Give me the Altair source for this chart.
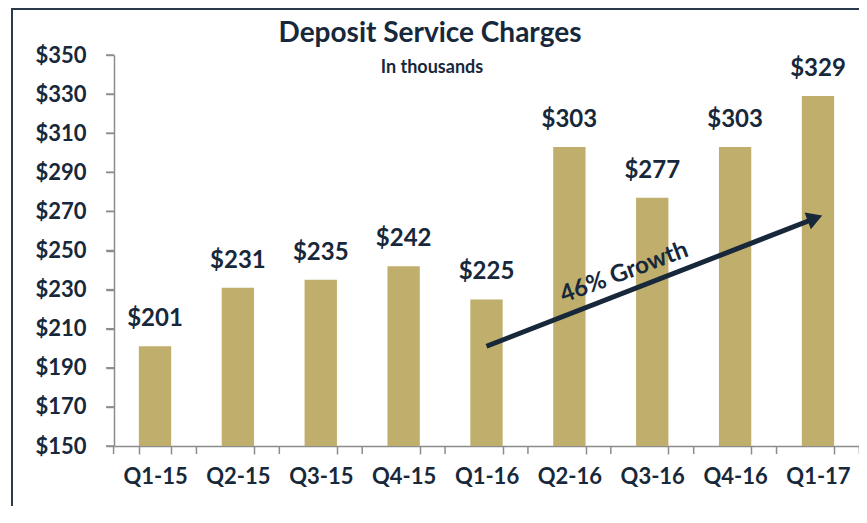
import altair as alt
import pandas as pd

quarters = ["Q1-15", "Q2-15", "Q3-15", "Q4-15", "Q1-16", "Q2-16", "Q3-16", "Q4-16", "Q1-17"]
values = [201, 231, 235, 242, 225, 303, 277, 303, 329]
labels = ["$" + str(v) for v in values]
y_ticks = [150, 170, 190, 210, 230, 250, 270, 290, 310, 330, 350]

arrow_from = ["Q1-16", 201]
arrow_to = ["Q1-17", 267]
growth_text = "46% Growth"
title_text = "Deposit Service Charges"
subtitle_text = "In thousands"

NAVY = "#17283b"
GOLD = "#c0ae6d"
GREY = "#8c8c8c"
FONT = "Lato"
W, H = 745, 391

df = pd.DataFrame({"q": quarters, "v": values, "lab": labels})
arrow_df = pd.DataFrame({"x": [arrow_from[0]], "x2": [arrow_to[0]], "y": [arrow_from[1]], "y2": [arrow_to[1]]})
head_df = pd.DataFrame({"x": [arrow_to[0]], "y": [arrow_to[1]]})
txt_df = pd.DataFrame({"x": ["Q3-16"], "y": [244], "t": [growth_text]})
yt_df = pd.DataFrame({"t": y_ticks})
xt_df = pd.DataFrame({"q": quarters})
xlast_df = pd.DataFrame({"q": [quarters[-1]]})

xscale = alt.Scale(domain=quarters, paddingInner=0.61, paddingOuter=0.3)
xaxis = alt.Axis(labelAngle=0, labelFont=FONT, labelFontSize=22, labelFontWeight="bold",
                 labelColor=NAVY, labelPadding=12, tickBand="extent", tickSize=8, tickWidth=1.5,
                 tickColor=GREY, domainColor=GREY, domainWidth=1.5, ticks=True)
yscale = alt.Scale(domain=[150, 350], nice=False, zero=False)
yaxis = alt.Axis(values=y_ticks, labelExpr="'$' + datum.value",
                 labelFont=FONT, labelFontSize=22, labelFontWeight="bold", labelColor=NAVY,
                 labelPadding=20, tickSize=8, tickWidth=1.5, tickColor=GREY, domainColor=GREY,
                 domainWidth=1.5, grid=False, labelOverlap=False, ticks=True)


def X(f, **kw):
    return alt.X(f, scale=xscale, axis=xaxis, title=None, **kw)


def Y(f):
    return alt.Y(f, scale=yscale, axis=yaxis, title=None)


bars = alt.Chart(df).mark_bar(color=GOLD).encode(x=X("q:N"), y=Y("v:Q"), y2=alt.datum(150))

text = alt.Chart(df).mark_text(font=FONT, fontSize=24, fontWeight="bold", color=NAVY,
                               baseline="middle", dy=-27).encode(
    x=X("q:N"), y=Y("v:Q"), text="lab:N")

arrow = alt.Chart(arrow_df).mark_rule(color=NAVY, strokeWidth=5).encode(
    x=X("x:N"), x2="x2:N", y=Y("y:Q"), y2="y2:Q")

head = alt.Chart(head_df).mark_point(shape="triangle-up", filled=True, color=NAVY, opacity=1,
                                     size=320, angle=69.4, xOffset=-3, yOffset=1).encode(
    x=X("x:N"), y=Y("y:Q"))

growth = alt.Chart(txt_df).mark_text(font=FONT, fontSize=24, fontWeight="bold", color=NAVY,
                                     angle=339.4, dx=-30).encode(
    x=X("x:N"), y=Y("y:Q"), text="t:N")

# tick marks (drawn explicitly so they always show)
ytick_marks = alt.Chart(yt_df).mark_rule(color=GREY, strokeWidth=1.5).encode(
    y=Y("t:Q"), x=alt.value(-8), x2=alt.value(0))
half_gap = -0.305 * W / 8.99
xtick_marks = alt.Chart(xt_df).mark_rule(color=GREY, strokeWidth=1.5, xOffset=half_gap).encode(
    x=X("q:N", bandPosition=0), y=alt.value(H), y2=alt.value(H + 8))
xtick_last = alt.Chart(xlast_df).mark_rule(color=GREY, strokeWidth=1.5, xOffset=-half_gap).encode(
    x=X("q:N", bandPosition=1), y=alt.value(H), y2=alt.value(H + 8))

one = pd.DataFrame({"a": [0]})
frame = alt.Chart(one).mark_rect(fill="transparent", stroke="#2a3a4c", strokeWidth=2).encode(
    x=alt.value(-102), x2=alt.value(900), y=alt.value(-46), y2=alt.value(700))

title = alt.Chart(one).mark_text(text=title_text, font=FONT, fontSize=28, fontWeight="bold",
                                 color=NAVY, baseline="middle").encode(
    x=alt.value(316), y=alt.value(-21))
subtitle = alt.Chart(one).mark_text(text=subtitle_text, font=FONT, fontSize=18, fontWeight="bold",
                                    color=NAVY, baseline="middle").encode(
    x=alt.value(318), y=alt.value(13))

chart = alt.layer(bars, text, arrow, head, growth, ytick_marks, xtick_marks, xtick_last,
                  frame, title, subtitle).properties(
    width=W, height=H, background="white",
    view=alt.ViewBackground(stroke="transparent", strokeWidth=0),
    autosize=alt.AutoSizeParams(type="none"),
    padding={"left": 106, "top": 47, "right": 0, "bottom": 60},
).configure_view(strokeWidth=0, stroke="transparent")

chart.save("out.html", embed_options={"renderer": "svg", "actions": False})
